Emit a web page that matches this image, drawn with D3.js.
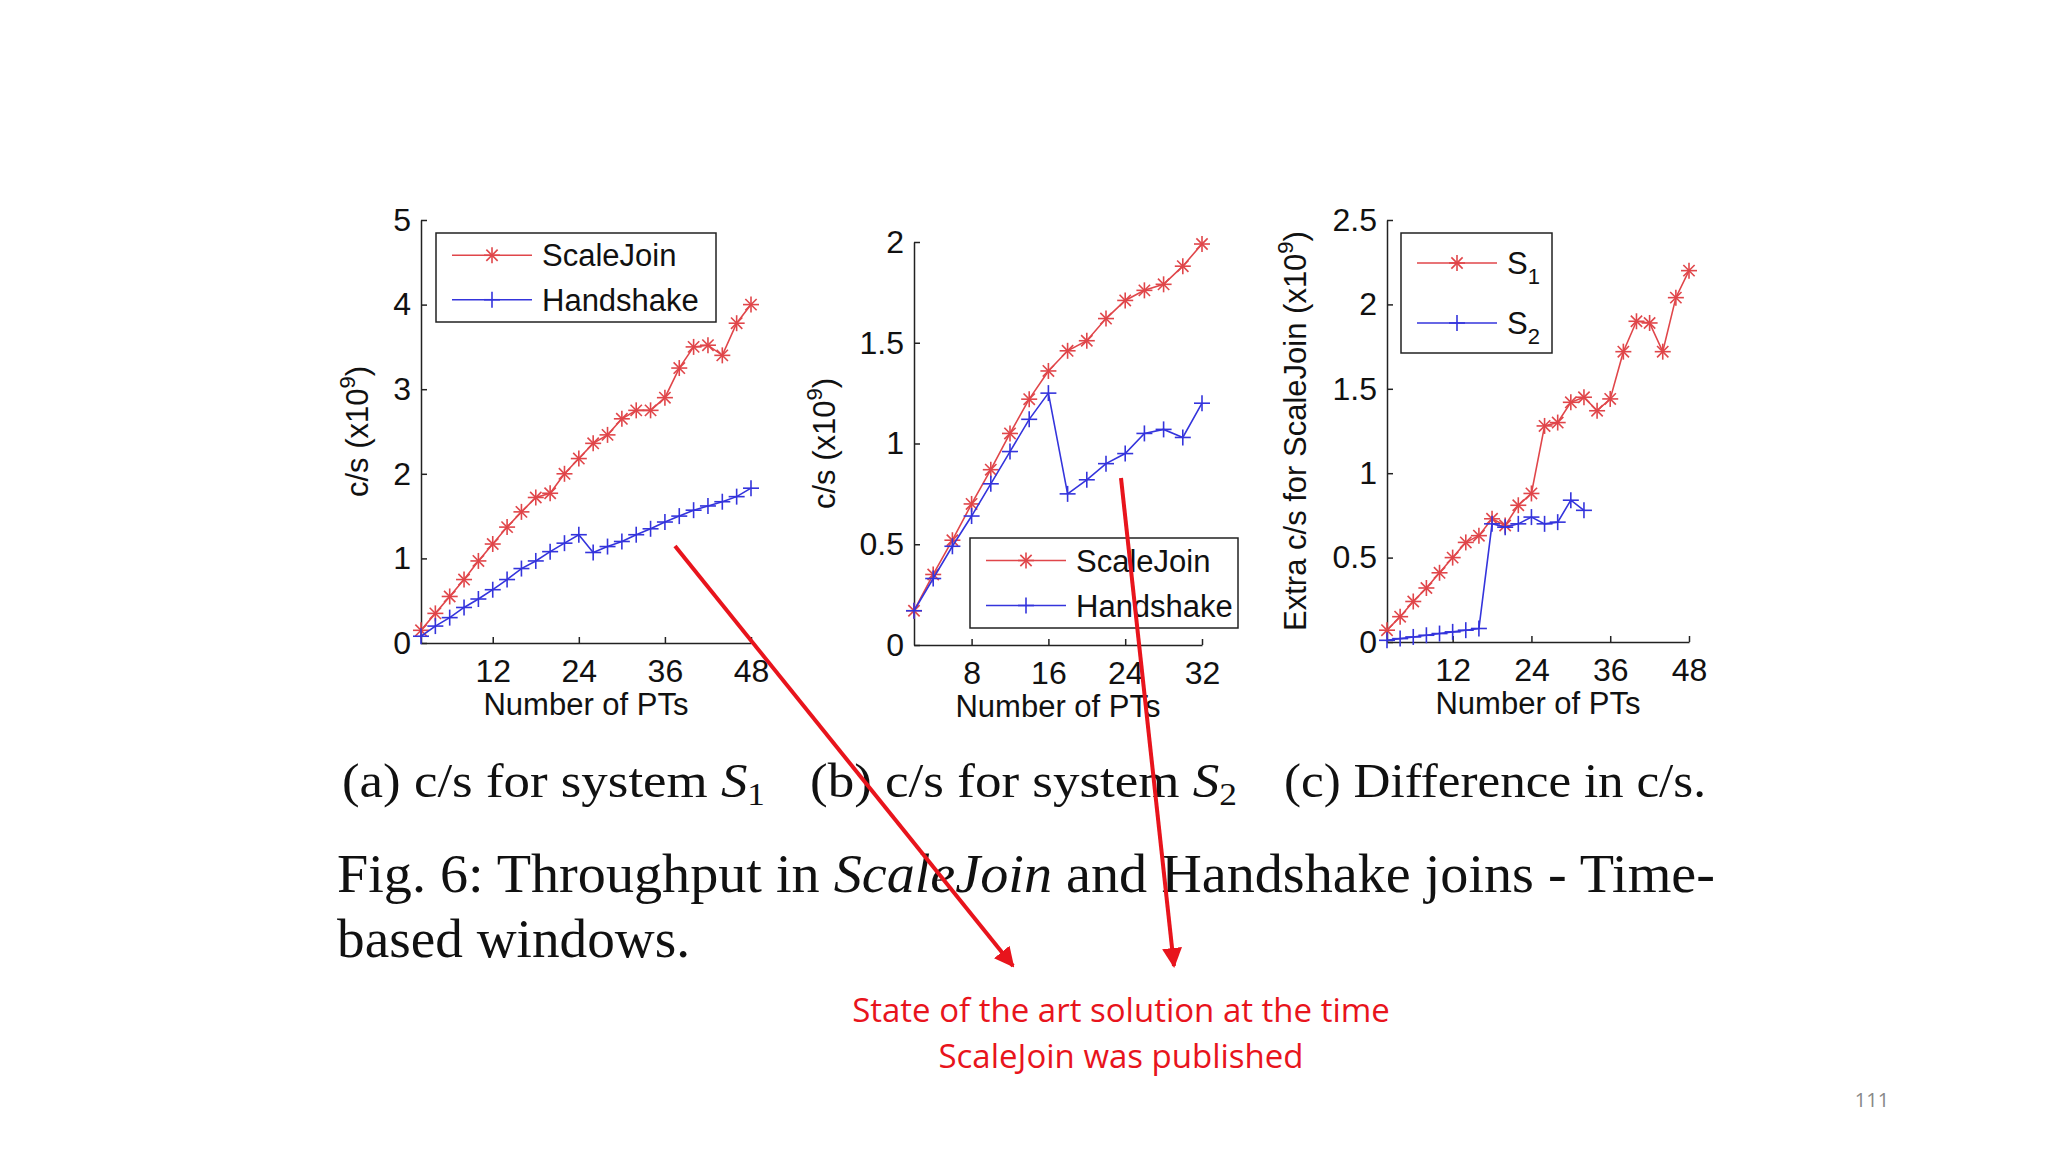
<!DOCTYPE html>
<html><head><meta charset="utf-8">
<script src="https://cdn.jsdelivr.net/npm/d3@7"></script>
<style>body{margin:0;background:#fff}svg{display:block}</style>
</head><body>
<svg id="chart" width="2048" height="1152"></svg>
<script>
// panel (a) system S1
const xA = d3.range(2, 49, 2);
const scaleJoinA = [0.15,0.35,0.55,0.75,0.97,1.17,1.37,1.55,1.72,1.77,2.0,2.18,2.36,2.46,2.65,2.75,2.75,2.9,3.25,3.5,3.52,3.4,3.78,4.0];
const handshakeA = [0.08,0.2,0.3,0.42,0.52,0.63,0.75,0.88,0.97,1.08,1.18,1.28,1.07,1.14,1.2,1.28,1.35,1.43,1.5,1.57,1.62,1.67,1.73,1.83];
// panel (b) system S2
const xB = d3.range(2, 33, 2);
const scaleJoinB = [0.17,0.35,0.52,0.7,0.87,1.05,1.22,1.36,1.46,1.51,1.62,1.71,1.76,1.79,1.88,1.99];
const handshakeB = [0.17,0.33,0.49,0.64,0.8,0.96,1.12,1.25,0.75,0.82,0.9,0.95,1.05,1.07,1.03,1.2];
// panel (c) difference
const diffS1 = [0.07,0.15,0.24,0.32,0.41,0.5,0.59,0.63,0.73,0.69,0.81,0.88,1.28,1.3,1.42,1.45,1.37,1.44,1.72,1.9,1.89,1.72,2.04,2.2];
const diffS2 = [0.01,0.02,0.03,0.04,0.05,0.06,0.07,0.08,0.7,0.68,0.7,0.74,0.7,0.71,0.84,0.78];

const xTicksA = [12,24,36,48], xTicksB = [8,16,24,32];
const yTicksA = [0,1,2,3,4,5], yTicksB = [0,0.5,1,1.5,2], yTicksC = [0,0.5,1,1.5,2,2.5];

const RED = "#e0464a", BLUE = "#3434dc";
const svg = d3.select("#chart");
const sans = "'Liberation Sans', Arial, sans-serif";
const serif = "'Liberation Serif', 'Times New Roman', serif";

function star(g, x, y, c) {
  const r = 8;
  for (let a = 0; a < 180; a += 45) {
    const t = a * Math.PI / 180;
    g.append("line").attr("x1", x - r*Math.cos(t)).attr("y1", y - r*Math.sin(t))
      .attr("x2", x + r*Math.cos(t)).attr("y2", y + r*Math.sin(t))
      .attr("stroke", c).attr("stroke-width", 1.6);
  }
}
function plus(g, x, y, c) {
  const r = 8;
  g.append("line").attr("x1", x-r).attr("x2", x+r).attr("y1", y).attr("y2", y).attr("stroke", c).attr("stroke-width", 1.6);
  g.append("line").attr("x1", x).attr("x2", x).attr("y1", y-r).attr("y2", y+r).attr("stroke", c).attr("stroke-width", 1.6);
}

function panel(o) {
  const g = svg.append("g");
  const x = d3.scaleLinear().domain(o.xd).range([o.x0, o.x1]);
  const y = d3.scaleLinear().domain(o.yd).range([o.y0, o.y1]);
  const ax = g.append("g").attr("transform", `translate(0,${o.y0})`)
    .call(d3.axisBottom(x).tickValues(o.xt).tickSize(-6).tickSizeOuter(0).tickPadding(16));
  const ay = g.append("g").attr("transform", `translate(${o.x0},0)`)
    .call(d3.axisLeft(y).tickValues(o.yt).tickSize(-6).tickSizeOuter(0).tickPadding(10).tickFormat(d3.format("")));
  [ax, ay].forEach(a => {
    a.selectAll("text").attr("font-family", sans).attr("font-size", 32).attr("fill", "#111");
    a.selectAll("path,line").attr("stroke", "#222").attr("stroke-width", 1.5);
  });
  g.append("text").attr("x", (o.x0 + o.x1) / 2).attr("y", o.y0 + 72).attr("text-anchor", "middle")
    .attr("font-family", sans).attr("font-size", 31).attr("fill", "#111").text("Number of PTs");
  const yl = g.append("text").attr("transform", `translate(${o.ylx},${(o.y0 + o.y1) / 2}) rotate(-90)`)
    .attr("text-anchor", "middle").attr("font-family", sans).attr("font-size", 31).attr("fill", "#111");
  yl.append("tspan").text(o.ylabel + " (x10");
  yl.append("tspan").attr("font-size", 22).attr("dy", -13).text("9");
  yl.append("tspan").attr("dy", 13).text(")");
  const line = d3.line().x(d => x(d[0])).y(d => y(d[1]));
  o.series.forEach(s => {
    const pts = s.v.map((v, i) => [s.x[i], v]);
    g.append("path").datum(pts).attr("d", line).attr("fill", "none").attr("stroke", s.c).attr("stroke-width", 1.6);
    pts.forEach(p => s.m(g, x(p[0]), y(p[1]), s.c));
  });
  // legend
  const L = o.leg;
  g.append("rect").attr("x", L.x).attr("y", L.y).attr("width", L.w).attr("height", L.h)
    .attr("fill", "#fff").attr("stroke", "#222").attr("stroke-width", 1.5);
  o.series.forEach((s, i) => {
    const ly = L.y + L.h * (i + 0.5) / 2;
    g.append("line").attr("x1", L.x + 16).attr("x2", L.x + 96).attr("y1", ly).attr("y2", ly).attr("stroke", s.c).attr("stroke-width", 1.6);
    s.m(g, L.x + 56, ly, s.c);
    const t = g.append("text").attr("x", L.x + 106).attr("y", ly + 11).attr("font-family", sans).attr("font-size", 31).attr("fill", "#111");
    if (s.sub) { t.append("tspan").text("S"); t.append("tspan").attr("font-size", 22).attr("dy", 10).text(s.sub); }
    else t.text(s.name);
  });
}

panel({xd:[2,48], yd:[0,5], x0:421, x1:751, y0:643, y1:220, xt:xTicksA, yt:yTicksA, ylx:368, ylabel:"c/s",
  leg:{x:436,y:233,w:280,h:89},
  series:[{name:"ScaleJoin", x:xA, v:scaleJoinA, c:RED, m:star},{name:"Handshake", x:xA, v:handshakeA, c:BLUE, m:plus}]});
panel({xd:[2,32], yd:[0,2], x0:914, x1:1202, y0:645, y1:242, xt:xTicksB, yt:yTicksB, ylx:835, ylabel:"c/s",
  leg:{x:970,y:538,w:268,h:90},
  series:[{name:"ScaleJoin", x:xB, v:scaleJoinB, c:RED, m:star},{name:"Handshake", x:xB, v:handshakeB, c:BLUE, m:plus}]});
panel({xd:[2,48], yd:[0,2.5], x0:1387, x1:1689, y0:642, y1:220, xt:xTicksA, yt:yTicksC, ylx:1306, ylabel:"Extra c/s for ScaleJoin",
  leg:{x:1401,y:233,w:151,h:120},
  series:[{name:"S1", sub:"1", x:xA, v:diffS1, c:RED, m:star},{name:"S2", sub:"2", x:xB, v:diffS2, c:BLUE, m:plus}]});

// captions
function cap(x, w, label, sub) {
  const t = svg.append("text").attr("x", x).attr("y", 797).attr("font-family", serif).attr("font-size", 48).attr("fill", "#111")
    .attr("textLength", w).attr("lengthAdjust", "spacingAndGlyphs");
  t.append("tspan").text(label);
  if (sub) { t.append("tspan").attr("font-style", "italic").text("S"); t.append("tspan").attr("font-size", 32).attr("dy", 8).text(sub); }
}
cap(342, 423, "(a) c/s for system ", "1");
cap(810, 427, "(b) c/s for system ", "2");
cap(1284, 422, "(c) Difference in c/s.", null);
const f1 = svg.append("text").attr("x", 337).attr("y", 892).attr("font-family", serif).attr("font-size", 54).attr("fill", "#111")
  .attr("textLength", 1378).attr("lengthAdjust", "spacingAndGlyphs");
f1.append("tspan").text("Fig. 6: Throughput in ");
f1.append("tspan").attr("font-style", "italic").text("ScaleJoin");
f1.append("tspan").text(" and Handshake joins - Time-");
svg.append("text").attr("x", 337).attr("y", 957).attr("font-family", serif).attr("font-size", 54).attr("fill", "#111")
  .attr("textLength", 353).attr("lengthAdjust", "spacingAndGlyphs").text("based windows.");

// annotation arrows
svg.append("defs").append("marker").attr("id", "ah").attr("viewBox", "0 0 10 10").attr("refX", 9).attr("refY", 5)
  .attr("markerWidth", 5).attr("markerHeight", 5).attr("orient", "auto")
  .append("path").attr("d", "M0,0L10,5L0,10z").attr("fill", "#e8141c");
[[675,546,1013,966],[1121,478,1174,966]].forEach(a => {
  svg.append("line").attr("x1", a[0]).attr("y1", a[1]).attr("x2", a[2]).attr("y2", a[3])
    .attr("stroke", "#e8141c").attr("stroke-width", 4).attr("marker-end", "url(#ah)");
});
const ann = "'Open Sans', 'Noto Sans', sans-serif";
svg.append("text").attr("x", 1121).attr("y", 1022).attr("text-anchor", "middle").attr("font-family", ann).attr("font-size", 33).attr("fill", "#e8141c").text("State of the art solution at the time");
svg.append("text").attr("x", 1121).attr("y", 1068).attr("text-anchor", "middle").attr("font-family", ann).attr("font-size", 33).attr("fill", "#e8141c").text("ScaleJoin was published");
svg.append("text").attr("x", 1872).attr("y", 1107).attr("text-anchor", "middle").attr("font-family", ann).attr("font-size", 20).attr("fill", "#888").text("111");
</script>
</body></html>
